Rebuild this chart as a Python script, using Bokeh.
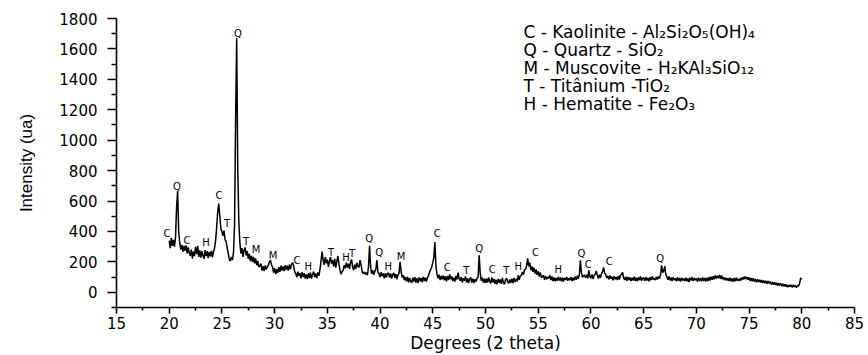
import numpy as np
from bokeh.plotting import figure
from bokeh.models import Range1d, FixedTicker
from bokeh.embed import file_html
from bokeh.resources import INLINE
from bokeh.core.properties import value

# 2-theta sampled every 0.1 degree, starting at 20.0
start_2theta = 20.0
step_2theta = 0.1

intensity_20s = [
    340, 290, 358, 305, 345, 300, 365, 560, 665, 395,
    325, 280, 312, 265, 305, 272, 308, 255, 295, 260,
    240, 280, 222, 268, 238, 298, 250, 305, 232, 275,
    228, 270, 242, 220, 278, 238, 270, 225, 265, 236,
    272, 230, 268, 290, 340, 425, 530, 583, 500, 420,
    398, 372, 405, 345, 335, 292, 255, 215, 205, 232,
    212, 265, 450, 1150, 1670, 820, 470, 330, 255, 290,
    232, 278, 295, 242, 270, 220, 252, 205, 240, 198,
    232, 190, 222, 178, 206, 165, 175, 188, 142, 172,
    140, 176, 150, 168, 178, 200, 212, 180, 165, 130,
]
intensity_30s = [
    158, 120, 152, 128, 166, 135, 175, 142, 170, 140,
    178, 148, 175, 142, 182, 152, 185, 195, 176, 135,
    125, 98, 135, 108, 126, 92, 132, 100, 126, 90,
    118, 86, 124, 94, 130, 90, 118, 136, 98, 124,
    94, 130, 108, 150, 205, 268, 210, 180, 232, 190,
    215, 165, 205, 232, 188, 212, 170, 220, 162, 205,
    238, 185, 145, 118, 136, 145, 178, 158, 195, 162,
    188, 152, 200, 215, 165, 145, 182, 155, 195, 168,
    165, 212, 180, 135, 122, 135, 118, 130, 112, 165,
    305, 170, 122, 145, 115, 138, 150, 212, 132, 122,
]
intensity_40s = [
    100, 132, 106, 124, 92, 125, 98, 120, 128, 96,
    124, 90, 116, 128, 95, 120, 86, 115, 125, 200,
    135, 98, 112, 80, 100, 72, 102, 66, 94, 74,
    62, 96, 70, 100, 64, 92, 60, 98, 72, 94,
    66, 102, 74, 96, 70, 98, 110, 135, 150, 165,
    195, 230, 330, 170, 118, 92, 116, 80, 108, 86,
    110, 78, 104, 72, 108, 82, 118, 86, 104, 74,
    96, 70, 108, 84, 130, 90, 76, 100, 64, 92,
    76, 104, 66, 92, 60, 88, 98, 64, 90, 60,
    86, 70, 94, 100, 243, 125, 76, 96, 64, 90,
]
intensity_50s = [
    60, 90, 64, 98, 72, 58, 98, 66, 88, 56,
    82, 52, 88, 62, 84, 56, 94, 64, 52, 82,
    92, 70, 58, 84, 62, 90, 60, 94, 68, 88,
    72, 112, 82, 106, 112, 134, 116, 148, 152, 175,
    223, 170, 195, 145, 170, 135, 162, 122, 150, 114,
    138, 104, 130, 96, 104, 112, 82, 106, 86, 100,
    92, 112, 80, 104, 74, 98, 72, 94, 76, 100,
    78, 98, 72, 96, 70, 94, 82, 100, 76, 92,
    80, 100, 74, 96, 78, 104, 82, 108, 88, 115,
    210, 125, 98, 108, 112, 96, 115, 92, 144, 104,
]
intensity_60s = [
    92, 118, 88, 110, 120, 140, 114, 90, 116, 96,
    120, 135, 164, 125, 118, 94, 108, 86, 110, 90,
    102, 78, 106, 86, 100, 80, 108, 84, 112, 118,
    131, 94, 82, 102, 76, 100, 80, 98, 74, 96,
    78, 102, 76, 96, 72, 98, 80, 104, 76, 92,
    96, 74, 100, 78, 94, 72, 98, 80, 104, 84,
    92, 80, 100, 84, 104, 90, 115, 177, 130, 140,
    172, 118, 100, 82, 104, 78, 98, 74, 100, 80,
    92, 72, 98, 76, 94, 70, 96, 78, 90, 74,
    96, 72, 90, 68, 96, 78, 100, 74, 94, 80,
]
intensity_70s = [
    90, 70, 96, 74, 92, 72, 98, 74, 94, 70,
    96, 74, 100, 78, 102, 82, 106, 86, 110, 90,
    108, 92, 114, 88, 110, 86, 98, 80, 96, 78,
    92, 74, 96, 72, 90, 70, 94, 72, 96, 76,
    88, 74, 94, 80, 100, 84, 104, 88, 100, 82,
    98, 76, 94, 72, 92, 70, 88, 66, 86, 68,
    82, 64, 80, 62, 78, 60, 76, 56, 74, 58,
    70, 52, 68, 50, 66, 48, 62, 44, 60, 46,
    58, 40, 56, 38, 52, 36, 50, 34, 48, 38,
    48, 32, 50, 36, 44, 30, 46, 40, 62, 95,
]
intensity_80 = [85]

# Phase annotations: letter, 2-theta, intensity
peak_letters = ["C", "Q", "C", "H", "C", "T", "Q", "T", "M", "M", "C", "H", "T", "H", "T",
                "Q", "Q", "H", "M", "C", "C", "T", "Q", "C", "T", "H", "C", "H", "Q", "C",
                "C", "Q"]
peak_2theta = [19.79, 20.74, 21.69, 23.49, 24.73, 25.49, 26.53, 27.29, 28.24, 29.85, 32.13,
               33.18, 35.36, 36.78, 37.35, 38.97, 39.92, 40.77, 42.0, 45.42, 46.37, 48.18,
               49.41, 50.64, 51.97, 53.11, 54.73, 56.91, 59.09, 59.75, 61.74, 66.58]
peak_intensity = [385, 693, 339, 326, 634, 451, 1704, 333, 280, 241, 208, 169, 260, 228, 254,
                  352, 260, 169, 234, 385, 162, 142, 287, 149, 142, 169, 260, 149, 254, 182,
                  201, 221]

legend_lines = [
    "C - Kaolinite - Al\u2082Si\u2082O\u2085(OH)\u2084",
    "Q - Quartz - SiO\u2082",
    "M - Muscovite - H\u2082KAl\u2083SiO\u2081\u2082",
    "T -  Tit\u00e2nium -TiO\u2082",
    "H - Hematite - Fe\u2082O\u2083",
]

x_ticks = [15, 20, 25, 30, 35, 40, 45, 50, 55, 60, 65, 70, 75, 80, 85]
y_ticks = [0, 200, 400, 600, 800, 1000, 1200, 1400, 1600, 1800]

intensity = intensity_20s + intensity_30s + intensity_40s + intensity_50s + \
    intensity_60s + intensity_70s + intensity_80
two_theta = np.round(start_2theta + step_2theta * np.arange(len(intensity)), 2)

p = figure(width=868, height=355, output_backend="svg", toolbar_location=None,
           x_range=Range1d(15, 85), y_range=Range1d(-100, 1800),
           min_border_left=116, min_border_right=14, min_border_top=18,
           min_border_bottom=47)
p.outline_line_color = None
p.xgrid.visible = False
p.ygrid.visible = False
p.background_fill_color = "white"
p.border_fill_color = "white"

p.line(two_theta, intensity, line_color="black", line_width=1.5)

p.text(x=peak_2theta, y=peak_intensity, text=peak_letters, text_align="center",
       text_baseline="middle", text_font=value("DejaVu Sans"), text_font_size="10px",
       text_color="#000000")

leg_x = [53.6] * len(legend_lines)
leg_y = [1710 - 118 * i for i in range(len(legend_lines))]
p.text(x=leg_x, y=leg_y, text=legend_lines, text_align="left", text_baseline="middle",
       text_font=value("DejaVu Sans"), text_font_size="17px", text_color="black")

x_minor = [t + 2.5 for t in x_ticks[:-1]]
y_minor = [-100] + [t + 100 for t in y_ticks[:-1]]
p.xaxis.ticker = FixedTicker(ticks=x_ticks, minor_ticks=x_minor)
p.yaxis.ticker = FixedTicker(ticks=y_ticks, minor_ticks=y_minor)

for ax in (p.xaxis[0], p.yaxis[0]):
    ax.axis_line_color = "black"
    ax.axis_line_width = 1.6
    ax.major_tick_line_color = "black"
    ax.minor_tick_line_color = "black"
    ax.major_tick_line_width = 1.6
    ax.minor_tick_line_width = 1.6
    ax.major_tick_in = 0
    ax.minor_tick_in = 0
    ax.major_label_text_font = "DejaVu Sans"
    ax.major_label_text_font_size = "15px"
    ax.major_label_text_color = "black"
    ax.axis_label_text_font_style = "normal"
    ax.axis_label_text_color = "black"

p.xaxis.major_tick_out = 6
p.xaxis.minor_tick_out = 3
p.yaxis.major_tick_out = 9
p.yaxis.minor_tick_out = 5
p.xaxis.major_label_standoff = 3
p.yaxis.major_label_standoff = 10

p.xaxis.axis_label = "Degrees (2 theta)"
p.xaxis.axis_label_text_font = "DejaVu Sans"
p.xaxis.axis_label_text_font_size = "17px"
p.xaxis.axis_label_standoff = 1

p.yaxis.axis_label = "Intensity (ua)"
p.yaxis.axis_label_text_font = "Liberation Sans"
p.yaxis.axis_label_text_font_size = "17px"
p.yaxis.axis_label_standoff = 20

open("out.html", "w").write(file_html(p, INLINE))
